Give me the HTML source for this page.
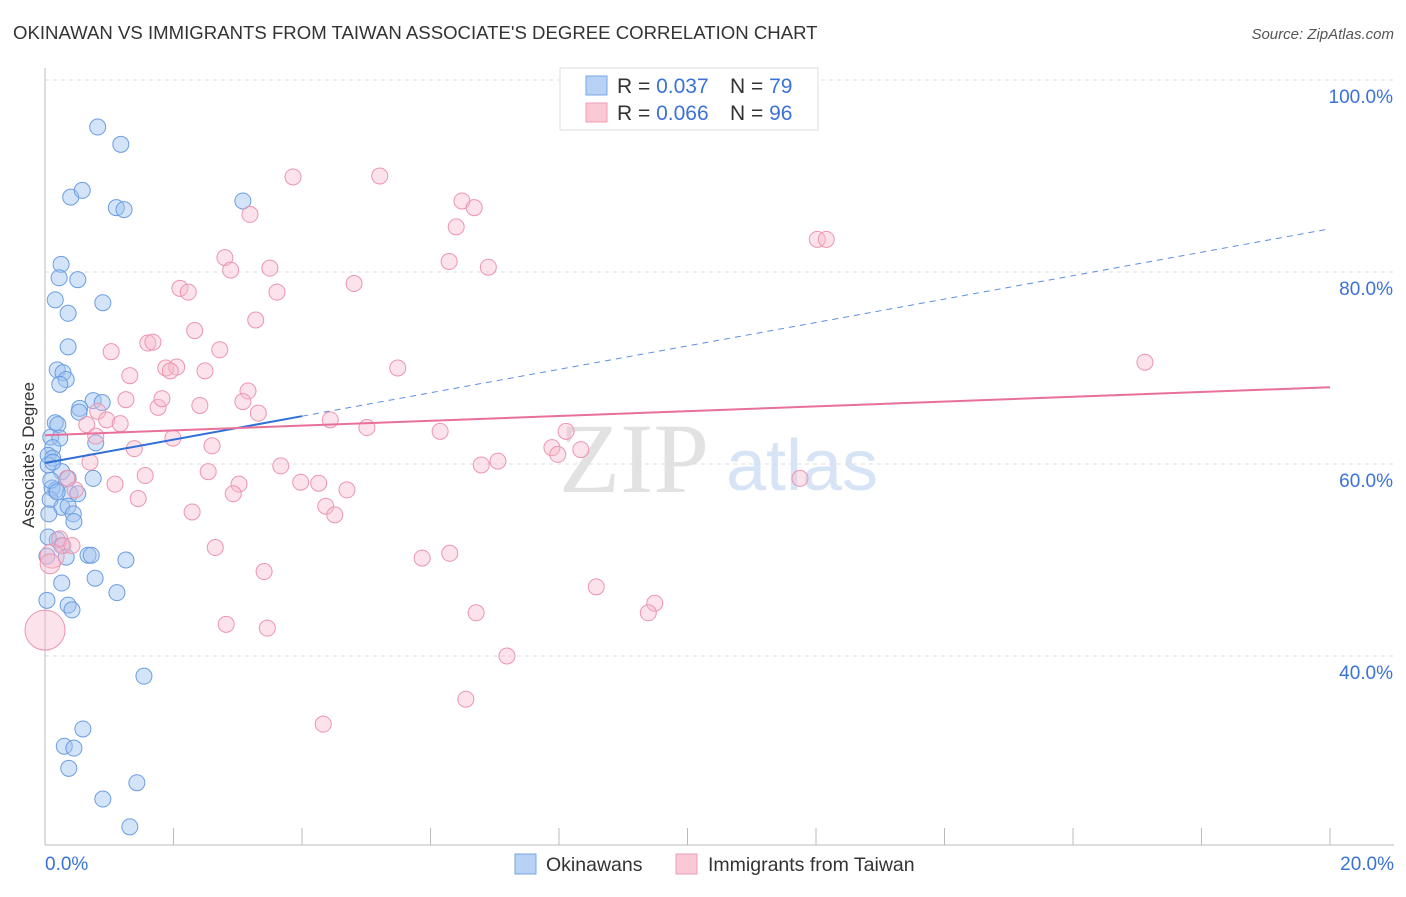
<!DOCTYPE html>
<html><head><meta charset="utf-8"><style>
body{margin:0;background:#fff;font-family:"Liberation Sans",sans-serif;}
</style></head><body>
<svg id="chart" width="1406" height="892" xmlns="http://www.w3.org/2000/svg" font-family="Liberation Sans, sans-serif">
<text x="13" y="39" font-size="18.6" fill="#333">OKINAWAN VS IMMIGRANTS FROM TAIWAN ASSOCIATE'S DEGREE CORRELATION CHART</text>
<text x="1394" y="39" font-size="15" fill="#555" text-anchor="end" font-style="italic">Source: ZipAtlas.com</text>
<g>
<text x="634" y="492" font-size="100" fill="#e2e2e2" style="font-family:'Liberation Serif',serif" text-anchor="middle">ZIP</text>
<text x="802" y="490" font-size="72" fill="#d6e4f5" text-anchor="middle">atlas</text>
</g>
<g id="grid"></g>
<g id="axes"></g>
<g id="points"></g>
<g id="lines"></g>
<text transform="translate(34,455) rotate(-90)" font-size="17" fill="#333" text-anchor="middle">Associate's Degree</text>
<g>
<rect x="560" y="68" width="258" height="62" fill="#fff" stroke="#ddd"/>
<rect x="586" y="76" width="21" height="19" fill="#b8d2f5" stroke="#7aa6e6"/>
<rect x="586" y="103" width="21" height="19" fill="#fbc9d6" stroke="#ef9fb6"/>
<text x="617" y="93" font-size="21" fill="#333">R = <tspan fill="#3a72d8">0.037</tspan></text>
<text x="730" y="93" font-size="21" fill="#333">N = <tspan fill="#3a72d8">79</tspan></text>
<text x="617" y="120" font-size="21" fill="#333">R = <tspan fill="#3a72d8">0.066</tspan></text>
<text x="730" y="120" font-size="21" fill="#333">N = <tspan fill="#3a72d8">96</tspan></text>
</g>
<g>
<rect x="515" y="854" width="21" height="20" fill="#b8d2f5" stroke="#7aa6e6"/>
<text x="546" y="871" font-size="19.5" fill="#333">Okinawans</text>
<rect x="676" y="854" width="21" height="20" fill="#fbc9d6" stroke="#ef9fb6"/>
<text x="708" y="871" font-size="19.5" fill="#333">Immigrants from Taiwan</text>
</g>
</svg>
<script>
const yTicks=[100,80,60,40];
const yTickLabels=["100.0%","80.0%","60.0%","40.0%"];
const xTickCount=10;
const xMin=0,xMax=20;
const blueIntercept=60.1,blueSlope=1.22,blueSolidEnd=4.0;
const pinkIntercept=63.0,pinkSlope=0.25;
const okinawan=[[0.82,95.1],[1.18,93.3],[0.40,87.8],[0.58,88.5],[1.11,86.7],[1.23,86.5],[3.08,87.4],[0.25,80.8],[0.22,79.4],[0.51,79.2],[0.16,77.1],[0.90,76.8],[0.36,75.7],[0.36,72.2],[0.19,69.8],[0.28,69.5],[0.33,68.8],[0.23,68.3],[0.75,66.6],[0.89,66.4],[0.54,65.8],[0.53,65.4],[0.16,64.3],[0.20,64.1],[0.09,62.8],[0.23,62.7],[0.79,62.2],[0.12,61.7],[0.05,60.9],[0.12,60.6],[0.05,59.9],[0.26,59.2],[0.75,58.5],[0.36,58.5],[0.11,57.5],[0.17,57.3],[0.39,56.9],[0.51,56.9],[0.08,56.3],[0.26,55.5],[0.36,55.6],[0.44,54.8],[0.06,54.8],[0.45,54.0],[0.19,52.1],[0.05,52.4],[0.26,51.5],[0.67,50.5],[0.72,50.5],[0.33,50.3],[1.26,50.0],[0.03,50.4],[0.26,47.6],[0.78,48.1],[1.12,46.6],[0.03,45.8],[0.36,45.3],[0.42,44.8],[1.54,37.9],[0.59,32.4],[0.30,30.6],[0.45,30.4],[0.37,28.3],[1.43,26.8],[0.90,25.1],[1.32,22.2],[0.09,58.3],[0.12,60.2],[0.19,57.1]];
const taiwan=[[3.86,89.9],[5.21,90.0],[6.49,87.4],[6.68,86.7],[3.19,86.0],[6.40,84.7],[12.02,83.4],[12.16,83.4],[6.29,81.1],[6.90,80.5],[2.80,81.5],[2.89,80.2],[3.50,80.4],[4.81,78.8],[2.10,78.3],[2.23,77.9],[3.61,77.9],[3.28,75.0],[2.33,73.9],[1.60,72.6],[1.68,72.7],[1.03,71.7],[2.72,71.9],[1.88,70.0],[2.05,70.1],[1.95,69.7],[2.49,69.7],[5.49,70.0],[17.12,70.6],[1.32,69.2],[3.16,67.6],[1.26,66.7],[2.41,66.1],[1.76,65.9],[1.82,66.8],[3.08,66.5],[3.32,65.3],[0.82,65.5],[0.96,64.6],[1.17,64.2],[4.44,64.6],[5.01,63.8],[6.15,63.4],[0.65,64.1],[0.79,62.9],[1.99,62.7],[2.60,61.9],[1.39,61.6],[8.11,63.4],[7.89,61.7],[7.98,61.0],[8.34,61.5],[7.05,60.3],[6.79,59.9],[0.70,60.2],[3.67,59.8],[2.54,59.2],[1.56,58.8],[0.34,58.5],[3.98,58.1],[4.26,58.0],[4.70,57.3],[3.02,57.9],[1.09,57.9],[0.47,57.3],[1.45,56.4],[2.93,56.9],[4.37,55.6],[4.51,54.7],[2.29,55.0],[11.75,58.5],[0.23,52.2],[0.28,51.5],[0.42,51.5],[2.65,51.3],[6.30,50.7],[5.87,50.2],[3.41,48.8],[8.58,47.2],[9.49,45.5],[9.39,44.5],[6.71,44.5],[2.82,43.3],[3.46,42.9],[7.19,40.0],[4.33,32.9],[6.55,35.5],[0.11,50.4],[0.08,49.6],[0.0,42.7]];
const taiwanSizes={89:20,87:12,88:10};

const NS="http://www.w3.org/2000/svg";
const X0=45,X1=1330,YTOP=80,PXPER=9.6;
function xs(v){return X0+(v-xMin)/(xMax-xMin)*(X1-X0);}
function ys(v){return YTOP+(100-v)*PXPER;}
function mk(tag,attrs,parent){const e=document.createElementNS(NS,tag);for(const k in attrs)e.setAttribute(k,attrs[k]);parent.appendChild(e);return e;}
const grid=document.getElementById('grid'),axes=document.getElementById('axes'),pts=document.getElementById('points'),lines=document.getElementById('lines');
yTicks.forEach((t,i)=>{
 const l=mk('line',{x1:X0,x2:1394,y1:ys(t),y2:ys(t),stroke:'#ddd','stroke-dasharray':'4,4'},grid);
 
 
 const tx=mk('text',{x:1393,y:ys(t)+23,'font-size':19,fill:'#3a72d8','text-anchor':'end'},grid);
 tx.textContent=yTickLabels[i];
 
 
});
const ya=mk('line',{x1:X0,x2:X0,y1:68,y2:845,stroke:'#bbb'},axes);


const xa=mk('line',{x1:X0,x2:1394,y1:845,y2:845,stroke:'#bbb'},axes);


for(let i=0;i<=xTickCount;i++){
 const v=xMin+i*(xMax-xMin)/xTickCount;
 const t=mk('line',{x1:xs(v),x2:xs(v),y1:828,y2:845,stroke:'#bbb'},axes);
 
 
}
const xl0=mk('text',{x:45,y:870,'font-size':19,fill:'#3a72d8'},axes);xl0.textContent=xMin.toFixed(1)+'%';


const xl1=mk('text',{x:1394,y:870,'font-size':19,fill:'#3a72d8','text-anchor':'end'},axes);xl1.textContent=xMax.toFixed(1)+'%';


okinawan.forEach(d=>{
 const c=mk('circle',{cx:xs(d[0]),cy:ys(d[1]),r:8,fill:'rgba(160,196,240,0.45)',stroke:'#6b9de2','stroke-width':1},pts);
 
 
});
taiwan.forEach((d,i)=>{
 const c=mk('circle',{cx:xs(d[0]),cy:ys(d[1]),r:taiwanSizes[i]||8,fill:'rgba(247,185,204,0.4)',stroke:'#ec95ae','stroke-width':1},pts);
 
 
});
const bs=mk('line',{x1:xs(0),y1:ys(blueIntercept),x2:xs(blueSolidEnd),y2:ys(blueIntercept+blueSlope*blueSolidEnd),stroke:'#2f6fd6','stroke-width':2},lines);


const bd=mk('line',{x1:xs(blueSolidEnd),y1:ys(blueIntercept+blueSlope*blueSolidEnd),x2:xs(xMax),y2:ys(blueIntercept+blueSlope*xMax),stroke:'#5d8fe0','stroke-width':1,'stroke-dasharray':'6,5'},lines);


const pl=mk('line',{x1:xs(0),y1:ys(pinkIntercept),x2:xs(xMax),y2:ys(pinkIntercept+pinkSlope*xMax),stroke:'#e8709a','stroke-width':2},lines);


</script>
</body></html>
